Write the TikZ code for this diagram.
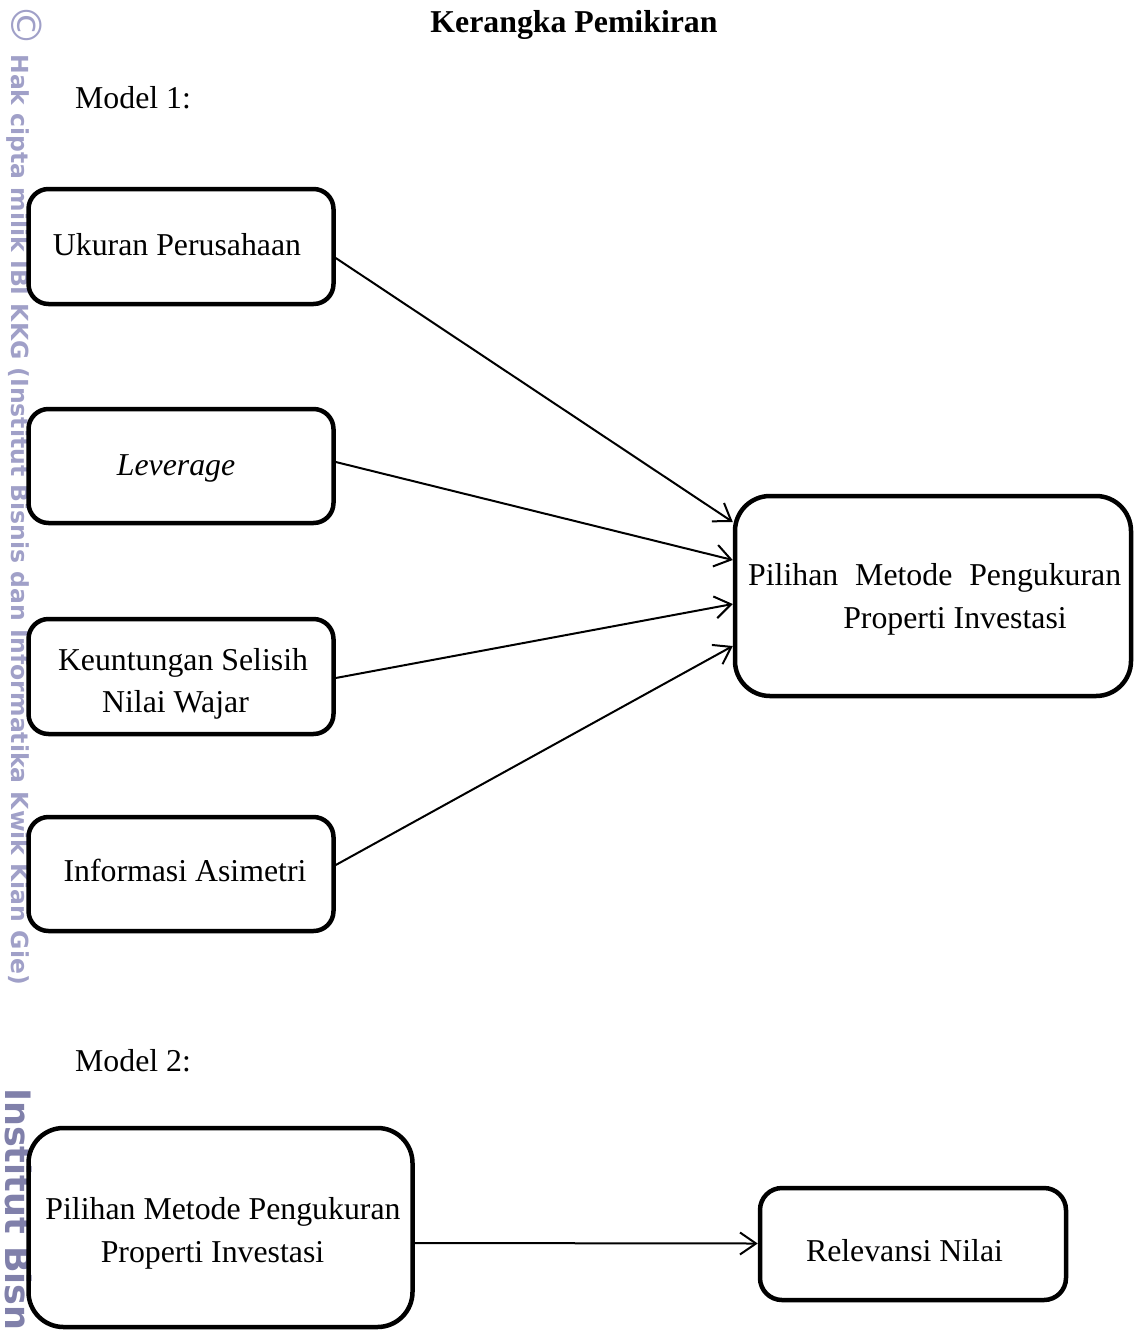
\documentclass[tikz,border=0pt]{standalone}
\usepackage{fontspec}
\setmainfont{Liberation Serif}
\newfontfamily\wmfont{DejaVu Sans}
\usetikzlibrary{arrows.meta}
\definecolor{wmlight}{RGB}{160,160,200}
\definecolor{wmdark}{RGB}{128,128,170}
\begin{document}
\begin{tikzpicture}[x=1pt,y=-1pt,
  box/.style={draw, line width=4.5pt, rounded corners=#1, inner sep=0pt},
  box/.default=20pt,
  lbl/.style={font=\fontsize{31.8}{43}\selectfont, anchor=base, inner sep=0pt},
  link/.style={line width=2pt, -{Straight Barb[length=16pt,width=22pt,line width=2pt]}}]
\useasboundingbox (0,0) rectangle (1136,1331);
% watermark
\node[rotate=-90, anchor=west, text=wmlight, inner sep=0pt,
  font=\wmfont\bfseries\fontsize{23.5}{23.5}\selectfont] (wm1) at (24,4)
  {{\fontsize{42}{42}\selectfont\mdseries ©} Hak cipta milik IBI KKG (Institut Bisnis dan Informatika Kwik Kian Gie)};
\node[rotate=-90, anchor=west, text=wmdark, inner sep=0pt,
  font=\wmfont\bfseries\fontsize{35}{35}\selectfont] (wm2) at (19,1088) {Institut Bisnis};
% titles
\node[lbl, font=\fontsize{31.8}{43}\selectfont\bfseries] (title) at (574,32) {Kerangka Pemikiran};
\node[lbl, anchor=base west] (m1) at (75,108) {Model 1:};
\node[lbl, anchor=base west] (m2) at (75,1071) {Model 2:};
% boxes model 1
\node[box, minimum width=305pt, minimum height=115pt] (uk) at (181,246.5) {};
\node[box, minimum width=305pt, minimum height=114pt] (lev) at (181,466) {};
\node[box, minimum width=305pt, minimum height=115pt] (keu) at (181,676.5) {};
\node[box, minimum width=305pt, minimum height=114pt] (inf) at (181,874) {};
\node[box=35pt, minimum width=396pt, minimum height=200pt] (pm) at (933,596) {};
% labels model 1
\node[lbl] (tuk) at (177,255) {Ukuran Perusahaan};
\node[lbl] (tlev) at (176,475) {\itshape Leverage};
\node[lbl] (tkeu1) at (183,670) {Keuntungan Selisih};
\node[lbl] (tkeu2) at (175.5,712) {Nilai Wajar};
\node[lbl] (tinf) at (185,881) {Informasi Asimetri};
\node[lbl, anchor=base west] (tpm1) at (748,585) {\makebox[373pt][s]{Pilihan Metode Pengukuran}};
\node[lbl] (tpm2) at (955,628) {Properti Investasi};
% arrows model 1
\draw[link] ([yshift=-11.5pt]uk.east) -- ([yshift=74pt]pm.west);
\draw[link] ([yshift=4pt]lev.east) -- ([yshift=36pt]pm.west);
\draw[link] ([yshift=-1.5pt]keu.east) -- ([yshift=-8pt]pm.west);
\draw[link] ([yshift=9pt]inf.east) -- ([yshift=-50pt]pm.west);
% model 2
\node[box=35pt, minimum width=384pt, minimum height=199pt] (pm2) at (220.5,1227.5) {};
\node[box=22pt, minimum width=306pt, minimum height=112pt] (rel) at (913,1244) {};
\node[lbl] (tpm21) at (223,1219) {Pilihan Metode Pengukuran};
\node[lbl] (tpm22) at (212.5,1262) {Properti Investasi};
\node[lbl] (trel) at (904.5,1261) {Relevansi Nilai};
\draw[link] ([yshift=-15.5pt]pm2.east) -- ([yshift=0.5pt]rel.west);
\end{tikzpicture}
\end{document}
